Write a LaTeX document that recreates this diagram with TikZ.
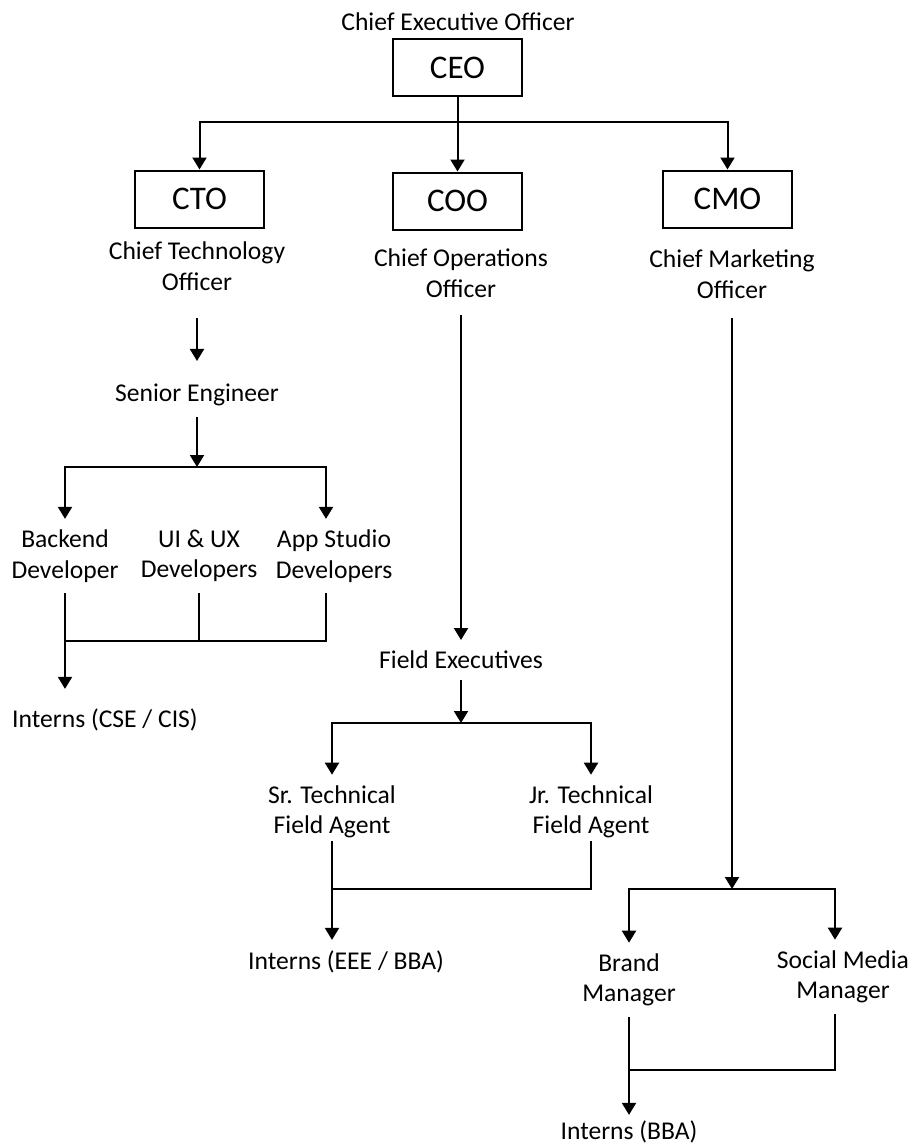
\documentclass[tikz,border=0pt]{standalone}
\usepackage{fontspec}
\setmainfont{Carlito}
\usetikzlibrary{arrows.meta,positioning}

\tikzset{
  box/.style={draw, line width=1pt, minimum width=64.5pt, minimum height=28.5pt,
    inner sep=0pt, font=\fontsize{16.5}{19}\selectfont},
  role/.style={align=center, inner sep=0pt, outer ysep=5.5pt,
    font=\fontsize{12.8}{15.2}\selectfont},
  conn/.style={line width=1pt, -{Triangle[width=7pt,length=6pt]}},
  link/.style={line width=1pt},
}

\begin{document}
\begin{tikzpicture}[x=0.5pt,y=-0.5pt]
  \useasboundingbox (0,0) rectangle (914,1145);

  % top level
  \node[role] (ceotitle) at (458,22) {Chief Executive Officer};
  \node[box] (ceo) at (457.5,67.5) {CEO};
  \node[box] (cto) at (199.5,199) {CTO};
  \node[box] (coo) at (457.5,201) {COO};
  \node[box] (cmo) at (727.5,199) {CMO};

  \node[role] (ctotitle) at (197,266) {Chief Technology\\Officer};
  \node[role] (cootitle) at (461,273) {Chief Operations\\Officer};
  \node[role] (cmotitle) at (732,274) {Chief Marketing\\Officer};

  % technology branch
  \node[role] (senior) at (197,395) {Senior Engineer};
  \node[role] (backend) at (65,556) {Backend\\Developer};
  \node[role] (uiux) at (199,556) {UI \& UX\\Developers};
  \node[role] (appstudio) at (334,556) {App Studio\\Developers};
  \node[role] (internscse) at (105,720) {Interns (CSE / CIS)};

  % operations branch
  \node[role] (fieldexec) at (461,660) {Field Executives};
  \node[role] (srtech) at (332,812) {Sr. Technical\\Field Agent};
  \node[role] (jrtech) at (591,812) {Jr. Technical\\Field Agent};
  \node[role] (internseee) at (346,962) {Interns (EEE / BBA)};

  % marketing branch
  \node[role] (brand) at (629,980) {Brand\\Manager};
  \node[role] (socialmedia) at (843,977) {Social Media\\Manager};
  \node[role, outer ysep=0pt] (internsbba) at (629,1132) {Interns (BBA)};

  % CEO to chiefs
  \coordinate (ceobar) at (457.5,122);
  \draw[conn] (ceo) -- (coo);
  \draw[conn] (ceobar) -| (cto.north);
  \draw[conn] (ceobar) -| (cmo.north);

  % technology lines
  \coordinate (devtop) at (197,467);
  \coordinate (devbottom) at (65,641);
  \draw[conn, shorten <=8.5pt, shorten >=6pt] (ctotitle) -- (senior);
  \draw[conn] (senior) -- (devtop);
  \draw[conn] (devtop) -| (backend.north);
  \draw[conn] (devtop) -| ([xshift=-4pt]appstudio.north);
  \draw[link] (backend) -- (devbottom) -| ([xshift=-4pt]appstudio.south);
  \draw[link] (uiux) -- (uiux |- devbottom);
  \draw[conn, shorten >=4.5pt] (devbottom) -- (devbottom |- internscse.north);

  % operations lines
  \coordinate (agenttop) at (461,723);
  \coordinate (agentbottom) at (332,889);
  \draw[conn, shorten <=3.5pt] (cootitle) -- (fieldexec);
  \draw[conn] (fieldexec) -- (agenttop);
  \draw[conn] (agenttop) -| (srtech.north);
  \draw[conn] (agenttop) -| (jrtech.north);
  \draw[link, shorten <=-4pt, shorten >=-4pt] (srtech) -- (agentbottom) -| (jrtech.south);
  \draw[conn] (agentbottom) -- (agentbottom |- internseee.north);

  % marketing lines
  \coordinate (mkttop) at (732,889);
  \coordinate (mktbottom) at (629,1070);
  \draw[conn, shorten <=4.5pt] (cmotitle) -- (mkttop);
  \draw[conn] (mkttop) -| (brand.north);
  \draw[conn] (mkttop) -| ([xshift=-4pt]socialmedia.north);
  \draw[link] (brand) -- (mktbottom) -| ([xshift=-4pt]socialmedia.south);
  \draw[conn, shorten >=3pt] (mktbottom) -- (internsbba);
\end{tikzpicture}
\end{document}
